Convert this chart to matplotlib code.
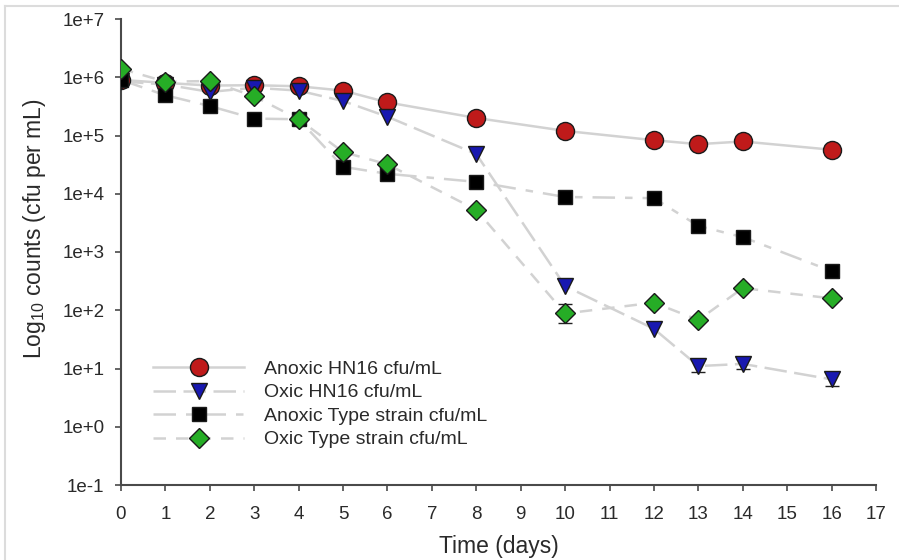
import matplotlib
matplotlib.use("Agg")
import matplotlib.pyplot as plt
from matplotlib.lines import Line2D
from matplotlib.ticker import FixedLocator, FuncFormatter
import numpy as np

plt.rcParams['font.family'] = ['Liberation Sans', 'DejaVu Sans']

days = [0, 1, 2, 3, 4, 5, 6, 8, 10, 12, 13, 14, 16]

anoxic_hn16 = [9.0e5, 8.0e5, 7.2e5, 7.3e5, 7.0e5, 5.9e5, 3.7e5, 2.0e5, 1.2e5, 8.3e4, 7.1e4, 7.9e4, 5.7e4]
oxic_hn16 = [8.5e5, 7.5e5, 5.6e5, 6.6e5, 5.9e5, 3.9e5, 2.1e5, 4.8e4, 2.6e2, 48, 11, 12, 6.5]
anoxic_type = [9.0e5, 4.9e5, 3.2e5, 1.95e5, 1.9e5, 2.9e4, 2.2e4, 1.6e4, 8.8e3, 8.4e3, 2.8e3, 1.8e3, 4.7e2]
oxic_type = [1.4e6, 8.4e5, 8.6e5, 4.7e5, 1.9e5, 5.2e4, 3.2e4, 5.3e3, 88, 1.35e2, 68, 2.4e2, 1.6e2]

# log10 error half-widths read from the small caps
oxic_hn16_err = [0, 0, 0, 0, 0, 0, 0, 0, 0, 0, 0.1, 0.08, 0.12]
oxic_type_err = [0, 0, 0, 0, 0, 0, 0, 0, 0.16, 0, 0, 0, 0]

labels = ["Anoxic HN16 cfu/mL", "Oxic HN16 cfu/mL",
          "Anoxic Type strain cfu/mL", "Oxic Type strain cfu/mL"]
y_ticks = [1e-1, 1e0, 1e1, 1e2, 1e3, 1e4, 1e5, 1e6, 1e7]
x_ticks = list(range(0, 18))

fig = plt.figure(figsize=(8.99, 5.60), dpi=100)
ax = fig.add_axes([121/899, (560-485)/560, (876-121)/899, (485-19)/560])

line_col = '#d2d2d2'
styles = [
    dict(vals=anoxic_hn16, err=None, marker='o', color='#bf1a1a', ms=13, ls='-'),
    dict(vals=oxic_hn16, err=oxic_hn16_err, marker='v', color='#1818b0', ms=11.5, ls=(0, (9, 3))),
    dict(vals=anoxic_type, err=None, marker='s', color='#000000', ms=10.5, ls=(0, (9, 4, 3, 4))),
    dict(vals=oxic_type, err=oxic_type_err, marker='D', color='#26ad26', ms=10, ls=(0, (5, 4))),
]

for s in styles:
    v = np.array(s['vals'], dtype=float)
    ax.plot(days, v, color=line_col, lw=1.8, ls=s['ls'], zorder=1)
for i, s in enumerate(styles):
    v = np.array(s['vals'], dtype=float)
    if s['err'] is not None:
        e = np.array(s['err'])
        lo = v - v / 10**e
        hi = v * 10**e - v
        mask = e > 0
        ax.errorbar(np.array(days)[mask], v[mask], yerr=[lo[mask], hi[mask]], fmt='none',
                    ecolor='#222222', elinewidth=1, capsize=5, capthick=1, zorder=2 + i)
    ax.plot(days, v, ls='none', marker=s['marker'], ms=s['ms'], mfc=s['color'],
            mec='#1a1a1a', mew=1.0, zorder=3 + i)

ax.set_yscale('log')
ax.set_ylim(1e-1, 1e7)
ax.set_xlim(0, 17)
ax.yaxis.set_major_locator(FixedLocator(y_ticks))
ax.yaxis.set_minor_locator(FixedLocator([]))
ax.yaxis.set_major_formatter(FuncFormatter(lambda v, p: "1e%+d" % int(round(np.log10(v)))))
ax.xaxis.set_major_locator(FixedLocator(x_ticks))

for sp in ['top', 'right']:
    ax.spines[sp].set_visible(False)
for sp in ['left', 'bottom']:
    ax.spines[sp].set_color('#4a4a4a')
    ax.spines[sp].set_linewidth(1.5)
ax.tick_params(axis='both', which='major', direction='out', length=4, width=1.2,
               color='#4a4a4a', labelsize=13.5, labelcolor='#2a2a2a')
ax.tick_params(axis='x', pad=11)
ax.tick_params(axis='y', pad=8)

ax.set_xlabel("Time (days)", fontsize=16.5, color='#2a2a2a', labelpad=9)
ax.set_ylabel(r"Log$_{\mathregular{10}}$ counts (cfu per mL)", fontsize=16.5, color='#2a2a2a')
ax.yaxis.set_label_coords(-0.097, 0.55)

handles = []
for s, lab in zip(styles, labels):
    handles.append(Line2D([], [], color=line_col, lw=1.8, ls=s['ls'], marker=s['marker'],
                          ms=s['ms'], mfc=s['color'], mec='#1a1a1a', mew=1.0))
leg = ax.legend(handles, labels, loc='upper left', bbox_to_anchor=(0.032, 0.284),
                borderaxespad=0, frameon=False, fontsize=14, handlelength=4.7,
                labelspacing=0.3, handletextpad=1.0, borderpad=0.4)
for t in leg.get_texts():
    t.set_color('#2a2a2a')

# faint figure frame (top and left)
fig.add_artist(Line2D([5/899, 898/899], [1 - 6/560, 1 - 6/560], color='#dcdcdc', lw=1.5,
                      transform=fig.transFigure))
fig.add_artist(Line2D([5/899, 5/899], [0, 1 - 6/560], color='#dcdcdc', lw=1.5,
                      transform=fig.transFigure))

fig.savefig("out.png", dpi=100)
